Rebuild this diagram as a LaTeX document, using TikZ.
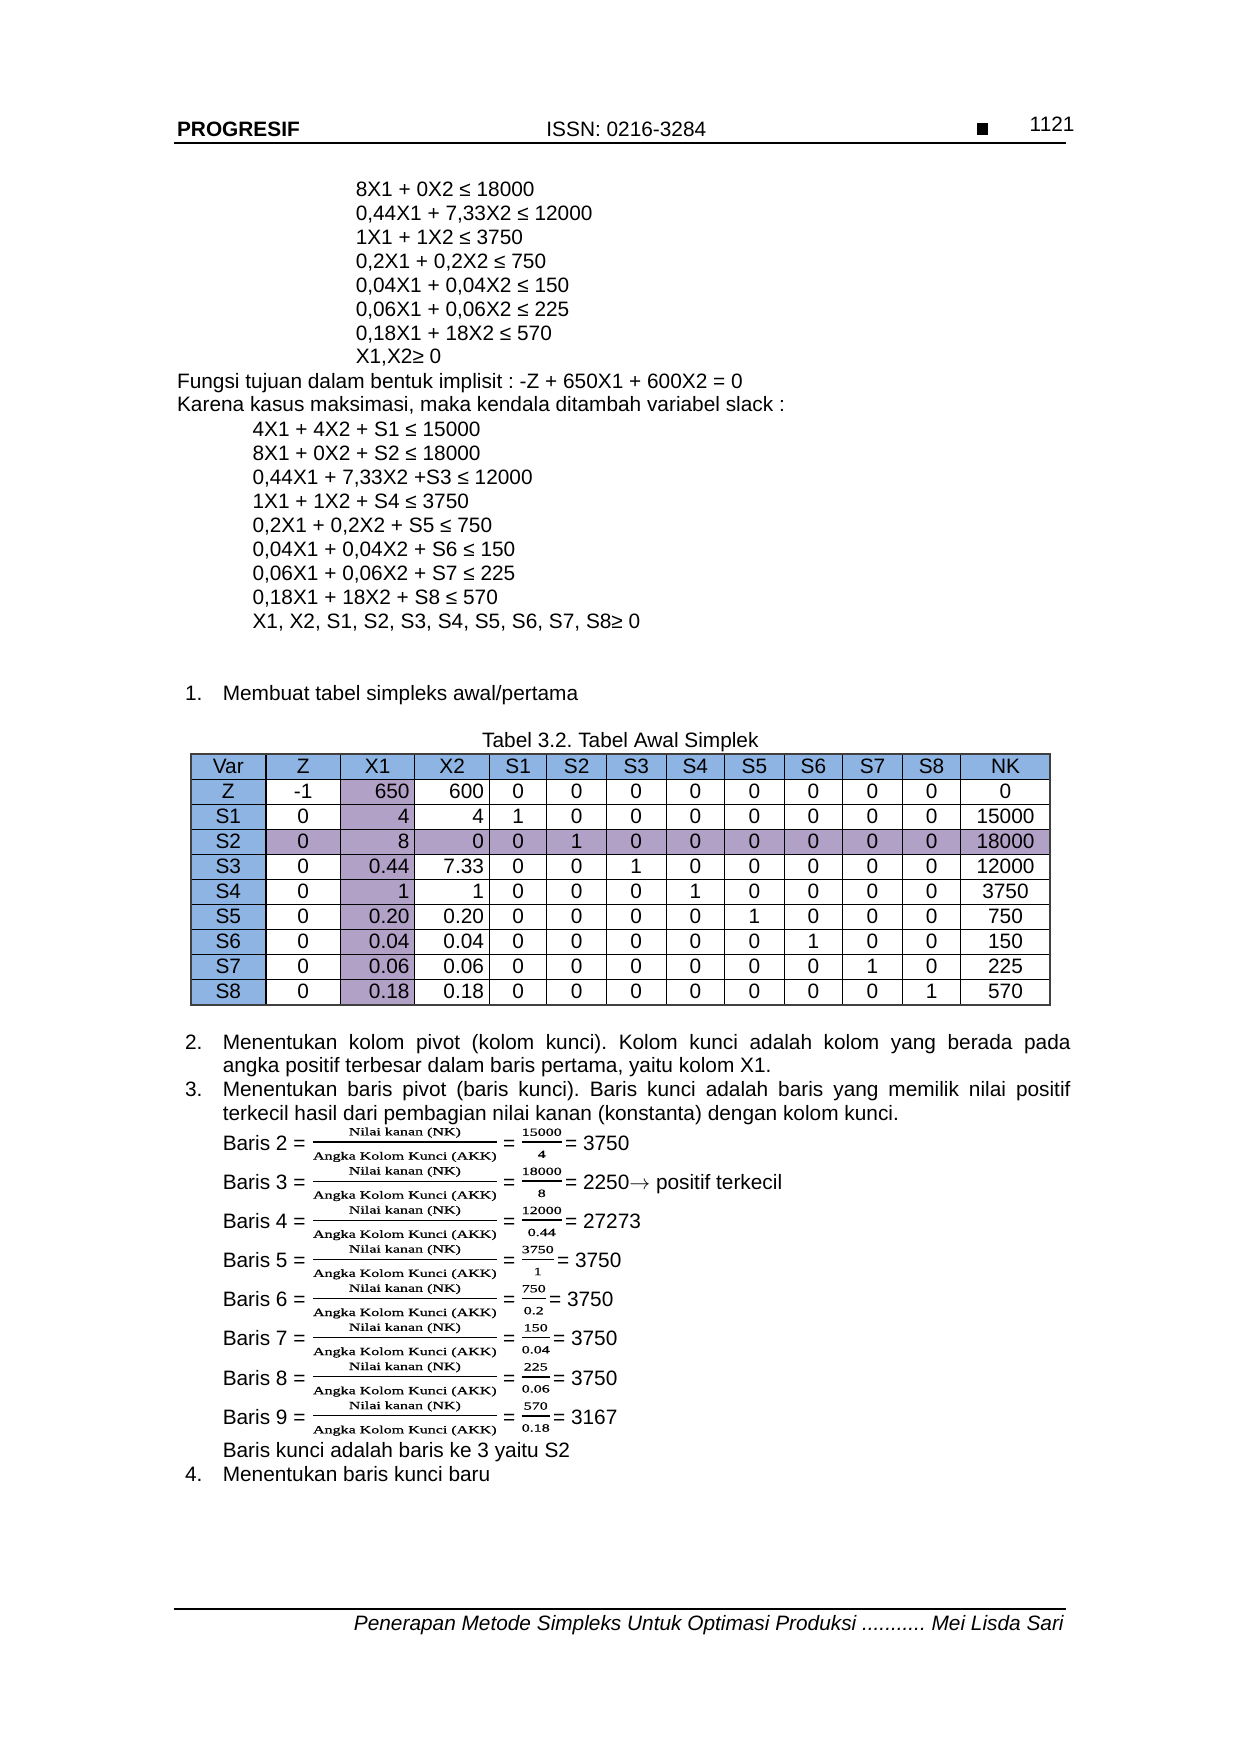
\documentclass[tikz,border=0pt]{standalone}
\usepackage{amsmath}
\usepackage{fontspec}
\setmainfont{Liberation Sans}
\newfontfamily\fracfont[FakeStretch=1.45,FakeBold=0.8]{Liberation Serif}
\usetikzlibrary{positioning}
\frenchspacing

\definecolor{varblue}{RGB}{141,180,226}
\definecolor{pivotpurple}{RGB}{178,161,199}

\newcommand{\nkfont}{\fracfont\fontsize{5.3}{6}\selectfont}
% fraction: bar width, numerator, denominator, lift of denominator
\newcommand{\nkfrac}[4]{\raisebox{1.5pt}{$\genfrac{}{}{#1}{0}%
  {\raisebox{-1.27pt}[0pt][0pt]{\nkfont #2}}{\raisebox{#4}[0pt][0pt]{\nkfont #3}}$}}
\def\colx{{192,268,343,418,493,551,611,671,730,790,849,909,968,1058}}

% one row of the simplex table: row index, variable, values
\newcommand{\simrow}[3]{%
  \pgfmathsetmacro{\ry}{760+25.25*#1+19}%
  \node[cell] (t-#1-0) at (230,\ry) {#2};%
  \foreach \v [count=\c] in {#3}{%
    \pgfmathsetmacro{\xa}{\colx[\c]}%
    \pgfmathsetmacro{\xb}{\colx[\c+1]}%
    \pgfmathtruncatemacro{\ralign}{(#1>0)*(\c>1)*(\c<4)}%
    \ifnum\ralign=1
      \node[cell,anchor=base east] (t-#1-\c) at (\xb-5,\ry) {\v};
    \else
      \node[cell] (t-#1-\c) at ({(\xa+\xb)/2},\ry) {\v};
    \fi}}

\begin{document}
\begin{tikzpicture}[x=0.4765pt,y=-0.4765pt,
    txt/.style={anchor=base west, inner sep=0pt, font=\fontsize{10}{11.5}\selectfont},
    cell/.style={anchor=base, inner sep=0pt, font=\fontsize{10}{11.5}\selectfont}]
    \fill[white] (0,0) rectangle (1249.2,1767.1);
    \useasboundingbox (0,0) rectangle (1249.2,1767.1);

    % header
    \node[txt, font=\fontsize{10}{11.5}\selectfont\bfseries] (journal) at (178,138) {PROGRESIF};
    \node[txt, anchor=base] (issn) at (631,138) {ISSN: 0216-3284};
    \fill (984,124) rectangle (995,136);
    \node[txt] (page) at (1037,132) {1121};
    \draw[line width=0.6pt] (175,144) -- (1074,144);

    % constraints
    \foreach \eq [count=\i from 0] in {8X1 + 0X2 ≤ 18000, {0,44X1 + 7,33X2 ≤ 12000},
        1X1 + 1X2 ≤ 3750, {0,2X1 + 0,2X2 ≤ 750}, {0,04X1 + 0,04X2 ≤ 150},
        {0,06X1 + 0,06X2 ≤ 225}, {0,18X1 + 18X2 ≤ 570}, {X1,X2≥ 0}}
        \node[txt] (con\i) at (358,{198+24.1*\i}) {\eq};
    \node[txt] (tujuan) at (178,391) {Fungsi tujuan dalam bentuk implisit : -Z + 650X1 + 600X2 = 0};
    \node[txt] (karena) at (178,415) {Karena kasus maksimasi, maka kendala ditambah variabel slack :};
    \foreach \eq [count=\i from 0] in {4X1 + 4X2 + S1 ≤ 15000, 8X1 + 0X2 + S2 ≤ 18000,
        {0,44X1 + 7,33X2 +S3 ≤ 12000}, 1X1 + 1X2 + S4 ≤ 3750, {0,2X1 + 0,2X2 + S5 ≤ 750},
        {0,04X1 + 0,04X2 + S6 ≤ 150}, {0,06X1 + 0,06X2 + S7 ≤ 225},
        {0,18X1 + 18X2 + S8 ≤ 570}, {X1, X2, S1, S2, S3, S4, S5, S6, S7, S8≥ 0}}
        \node[txt] (sl\i) at (254,{440+24.1*\i}) {\eq};

    \node[txt] (n1) at (186,706) {1.};
    \node[txt] (item1) at (224,706) {Membuat tabel simpleks awal/pertama};

    % table
    \node[cell] (tabtitle) at (625,753) {Tabel 3.2. Tabel Awal Simplek};
    \fill[varblue] (192,760) rectangle (1058,785.25);
    \fill[varblue] (192,785.25) rectangle (268,1012.5);
    \fill[pivotpurple] (343,785.25) rectangle (418,1012.5);
    \fill[pivotpurple] (268,835.75) rectangle (1058,861);
    \foreach \x in {268,343,418,493,551,611,671,730,790,849,909,968}
        \draw[line width=0.5pt] (\x,760) -- (\x,1012.5);
    \foreach \i in {1,...,9}
        \draw[line width=0.5pt] (192,{760+25.25*\i}) -- (1058,{760+25.25*\i});
    \draw[line width=1pt, black!75] (192,760) rectangle (1058,1012.5);
    \simrow{0}{Var}{Z,X1,X2,S1,S2,S3,S4,S5,S6,S7,S8,NK}
    \simrow{1}{Z}{-1,650,600,0,0,0,0,0,0,0,0,0}
    \simrow{2}{S1}{0,4,4,1,0,0,0,0,0,0,0,15000}
    \simrow{3}{S2}{0,8,0,0,1,0,0,0,0,0,0,18000}
    \simrow{4}{S3}{0,0.44,7.33,0,0,1,0,0,0,0,0,12000}
    \simrow{5}{S4}{0,1,1,0,0,0,1,0,0,0,0,3750}
    \simrow{6}{S5}{0,0.20,0.20,0,0,0,0,1,0,0,0,750}
    \simrow{7}{S6}{0,0.04,0.04,0,0,0,0,0,1,0,0,150}
    \simrow{8}{S7}{0,0.06,0.06,0,0,0,0,0,0,1,0,225}
    \simrow{9}{S8}{0,0.18,0.18,0,0,0,0,0,0,0,1,570}

    % steps 2 and 3
    \node[txt] (n2) at (186,1057) {2.};
    \node[txt] (item2a) at (224,1057) {\makebox[407pt][s]{Menentukan kolom pivot (kolom kunci). Kolom kunci adalah kolom yang berada pada}};
    \node[txt] (item2b) at (224,1081) {angka positif terbesar dalam baris pertama, yaitu kolom X1.};
    \node[txt] (n3) at (186,1105) {3.};
    \node[txt] (item3a) at (224,1105) {\makebox[407pt][s]{Menentukan baris pivot (baris kunci). Baris kunci adalah baris yang memilik nilai positif}};
    \node[txt] (item3b) at (224,1129) {terkecil hasil dari pembagian nilai kanan (konstanta) dengan kolom kunci.};

    \foreach \n/\num/\den/\res [count=\k from 0] in {2/15000/4/3750,
        3/18000/8/{2250$\rightarrow$ positif terkecil}, 4/12000/0.44/27273, 5/3750/1/3750,
        6/750/0.2/3750, 7/150/0.04/3750, 8/225/0.06/3750, 9/570/0.18/3167}{
        \node[txt] (b\n) at (224,{1159+39.4*\k}) {Baris \n\ =};
        \node[txt, base right=2pt of b\n] (fa\n)
            {\nkfrac{0.6pt}{Nilai kanan (NK)}{Angka Kolom Kunci (AKK)}{0.96pt}};
        \node[txt, base right=1.5pt of fa\n] (eq\n) {=};
        \node[txt, base right=1.5pt of eq\n] (fb\n) {\nkfrac{0.8pt}{\num}{\den}{1.8pt}};
        \node[txt, base right=0pt of fb\n] (res\n) {= \res};
    }
    \node[txt] (kunci) at (224,1468) {Baris kunci adalah baris ke 3 yaitu S2};
    \node[txt] (n4) at (186,1493) {4.};
    \node[txt] (item4) at (224,1493) {Menentukan baris kunci baru};

    % footer
    \draw[line width=0.6pt] (175,1621) -- (1074,1621);
    \node[txt, anchor=base east, font=\fontsize{10}{11.5}\selectfont\itshape] (footer) at (1072,1643)
        {Penerapan Metode Simpleks Untuk Optimasi Produksi ........... Mei Lisda Sari};
\end{tikzpicture}
\end{document}
